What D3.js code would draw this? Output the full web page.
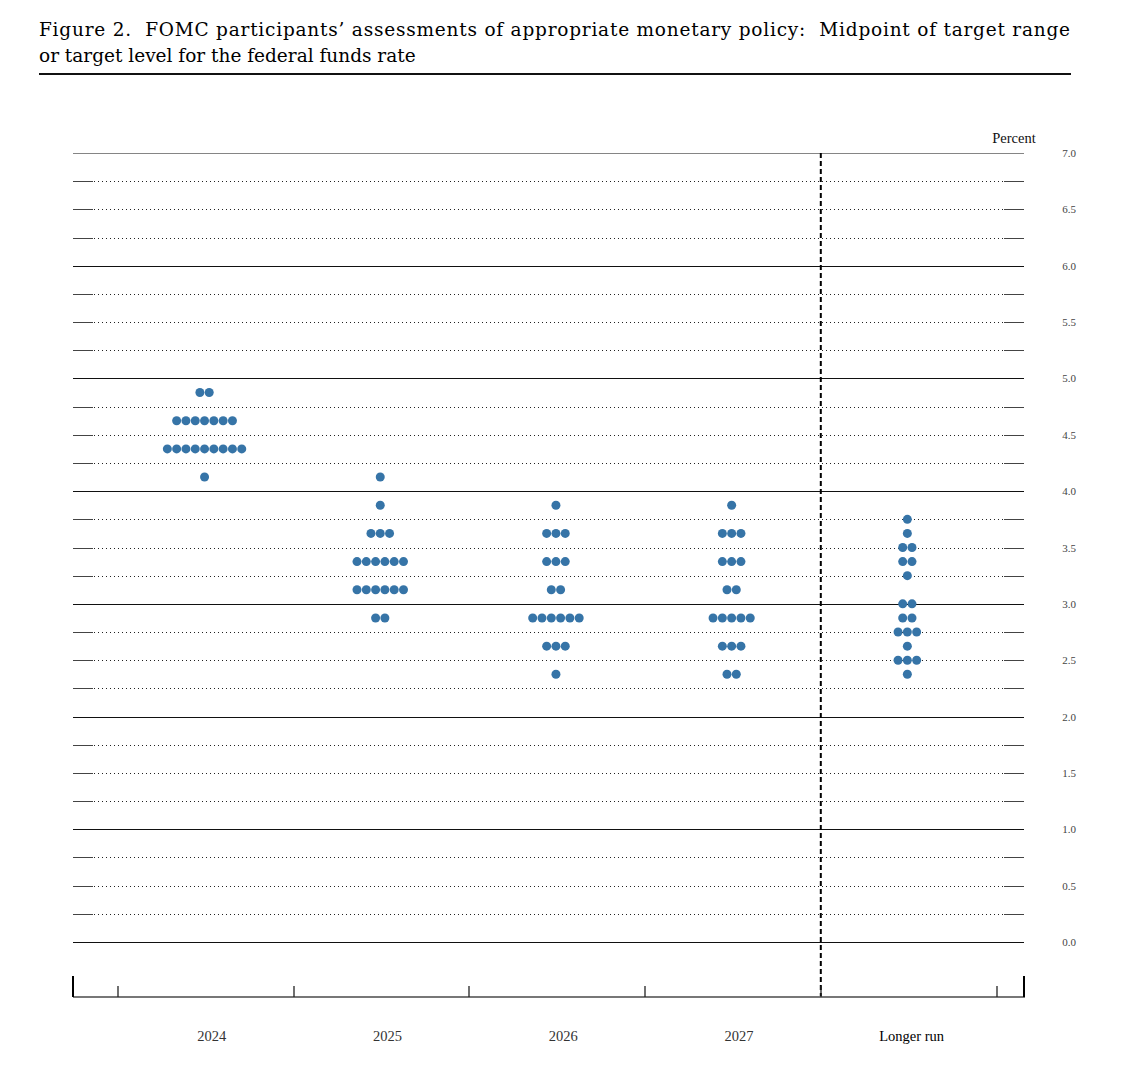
<!DOCTYPE html>
<html>
<head>
<meta charset="utf-8">
<script src="https://cdn.jsdelivr.net/npm/d3@7"></script>
<style>
  body { margin: 0; background: #fff; }
  svg { display: block; }
</style>
</head>
<body>
<div id="chart"></div>
<script>
/**
 * DATA
 * */
const categories = ["2024", "2025", "2026", "2027", "Longer run"];

// [midpoint, number of participants]
const dots2024 = [[4.875, 2], [4.625, 7], [4.375, 9], [4.125, 1]];
const dots2025 = [[4.125, 1], [3.875, 1], [3.625, 3], [3.375, 6], [3.125, 6], [2.875, 2]];
const dots2026 = [[3.875, 1], [3.625, 3], [3.375, 3], [3.125, 2], [2.875, 6], [2.625, 3], [2.375, 1]];
const dots2027 = [[3.875, 1], [3.625, 3], [3.375, 3], [3.125, 2], [2.875, 5], [2.625, 3], [2.375, 2]];
const dotsLonger = [[3.75, 1], [3.625, 1], [3.5, 2], [3.375, 2], [3.25, 1], [3.0, 2], [2.875, 2], [2.75, 3], [2.625, 1], [2.5, 3], [2.375, 1]];

const yTickLabels = ["0.0", "0.5", "1.0", "1.5", "2.0", "2.5", "3.0", "3.5", "4.0", "4.5", "5.0", "5.5", "6.0", "6.5", "7.0"];
const gridValues = d3.range(0, 7.001, 0.25);

const titleLine1 = "Figure 2.  FOMC participants\u2019 assessments of appropriate monetary policy:  Midpoint of target range";
const titleLine2 = "or target level for the federal funds rate";

/**
 * CONSTANTS
 * */
const width = 1132,
  height = 1086,
  plot = { left: 73, right: 1024, top: 153, bottom: 942, axisY: 997 },
  dotR = 4.5,
  dotStep = 9.3,
  serif = "'Liberation Serif', 'DejaVu Serif', serif",
  titleFont = "'DejaVu Serif', serif";

const svg = d3.select("#chart").append("svg")
  .attr("width", width)
  .attr("height", height);

// SCALES
const xScale = d3.scaleBand()
  .domain(categories)
  .range([118, 996.5])
  .padding(0);

const yScale = d3.scaleLinear()
  .domain([0, 7])
  .range([plot.bottom, plot.top]);

// TITLE
svg.append("text")
  .attr("x", 39).attr("y", 36)
  .attr("font-family", titleFont)
  .attr("font-size", 18.5)
  .attr("textLength", 1031)
  .attr("lengthAdjust", "spacing")
  .attr("xml:space", "preserve")
  .style("white-space", "pre")
  .text(titleLine1);

svg.append("text")
  .attr("x", 39).attr("y", 62)
  .attr("font-family", titleFont)
  .attr("font-size", 18.5)
  .text(titleLine2);

svg.append("line")
  .attr("x1", 39).attr("x2", 1071)
  .attr("y1", 74).attr("y2", 74)
  .attr("stroke", "#111")
  .attr("stroke-width", 2.2);

// GRIDLINES
const grid = svg.append("g").attr("class", "grid");
gridValues.forEach(v => {
  const y = Math.round(yScale(v)) + 0.5;
  const isInt = Math.abs(v - Math.round(v)) < 1e-9;
  if (isInt) {
    grid.append("line")
      .attr("x1", plot.left).attr("x2", plot.right)
      .attr("y1", y).attr("y2", y)
      .attr("stroke", v === 7 ? "#666" : "#111")
      .attr("stroke-width", v === 7 ? 0.8 : 1);
  } else {
    grid.append("line")
      .attr("x1", plot.left + 21).attr("x2", plot.right - 21)
      .attr("y1", y).attr("y2", y)
      .attr("stroke", "#222")
      .attr("stroke-width", 1)
      .attr("stroke-dasharray", "1,3");
    [[plot.left, plot.left + 20], [plot.right - 20, plot.right]].forEach(([a, b]) => {
      grid.append("line")
        .attr("x1", a).attr("x2", b)
        .attr("y1", y).attr("y2", y)
        .attr("stroke", "#444")
        .attr("stroke-width", 1);
    });
  }
});

// Y LABELS
svg.append("g")
  .selectAll("text")
  .data(yTickLabels)
  .join("text")
  .attr("x", 1069)
  .attr("y", d => yScale(+d) + 4)
  .attr("text-anchor", "middle")
  .attr("font-family", serif)
  .attr("font-size", 11)
  .attr("fill", "#444")
  .text(d => d);

svg.append("text")
  .attr("x", 1014).attr("y", 143)
  .attr("text-anchor", "middle")
  .attr("font-family", serif)
  .attr("font-size", 14.5)
  .attr("fill", "#111")
  .text("Percent");

// LONGER RUN DIVIDER
svg.append("line")
  .attr("x1", xScale("Longer run")).attr("x2", xScale("Longer run"))
  .attr("y1", plot.top).attr("y2", plot.axisY)
  .attr("stroke", "#000")
  .attr("stroke-width", 2)
  .attr("stroke-dasharray", "5,3");

// BOTTOM AXIS
const xAxis = svg.append("g").attr("class", "x-axis");
xAxis.append("line")
  .attr("x1", plot.left).attr("x2", plot.right + 1)
  .attr("y1", plot.axisY).attr("y2", plot.axisY)
  .attr("stroke", "#777")
  .attr("stroke-width", 2);

const tickPositions = categories.map(c => xScale(c)).concat([xScale.range()[1]]);
xAxis.selectAll(".tick")
  .data(tickPositions)
  .join("line")
  .attr("class", "tick")
  .attr("x1", d => Math.round(d)).attr("x2", d => Math.round(d))
  .attr("y1", plot.axisY - 11).attr("y2", plot.axisY)
  .attr("stroke", "#222")
  .attr("stroke-width", 1.3);

[plot.left, plot.right].forEach(x => {
  xAxis.append("line")
    .attr("x1", x).attr("x2", x)
    .attr("y1", plot.axisY - 21).attr("y2", plot.axisY)
    .attr("stroke", "#000")
    .attr("stroke-width", 2);
});

xAxis.selectAll(".cat-label")
  .data(categories)
  .join("text")
  .attr("class", "cat-label")
  .attr("x", d => xScale(d) + xScale.bandwidth() / 2 + (d === "Longer run" ? 3 : 6))
  .attr("y", 1041)
  .attr("text-anchor", "middle")
  .attr("font-family", serif)
  .attr("font-size", 14.5)
  .attr("fill", d => d === "Longer run" ? "#000" : "#333")
  .text(d => d);

// DOTS
const dotGroups = [dots2024, dots2025, dots2026, dots2027, dotsLonger];
const points = [];
categories.forEach((cat, ci) => {
  const cx = xScale(cat) + xScale.bandwidth() / 2 - 1.3;
  dotGroups[ci].forEach(([value, count]) => {
    for (let i = 0; i < count; i++) {
      points.push({ cat, value, x: cx + (i - (count - 1) / 2) * dotStep });
    }
  });
});

svg.append("g")
  .selectAll("circle")
  .data(points)
  .join("circle")
  .attr("cx", d => d.x)
  .attr("cy", d => yScale(d.value))
  .attr("r", dotR)
  .attr("fill", "#3674a7");
</script>
</body>
</html>
